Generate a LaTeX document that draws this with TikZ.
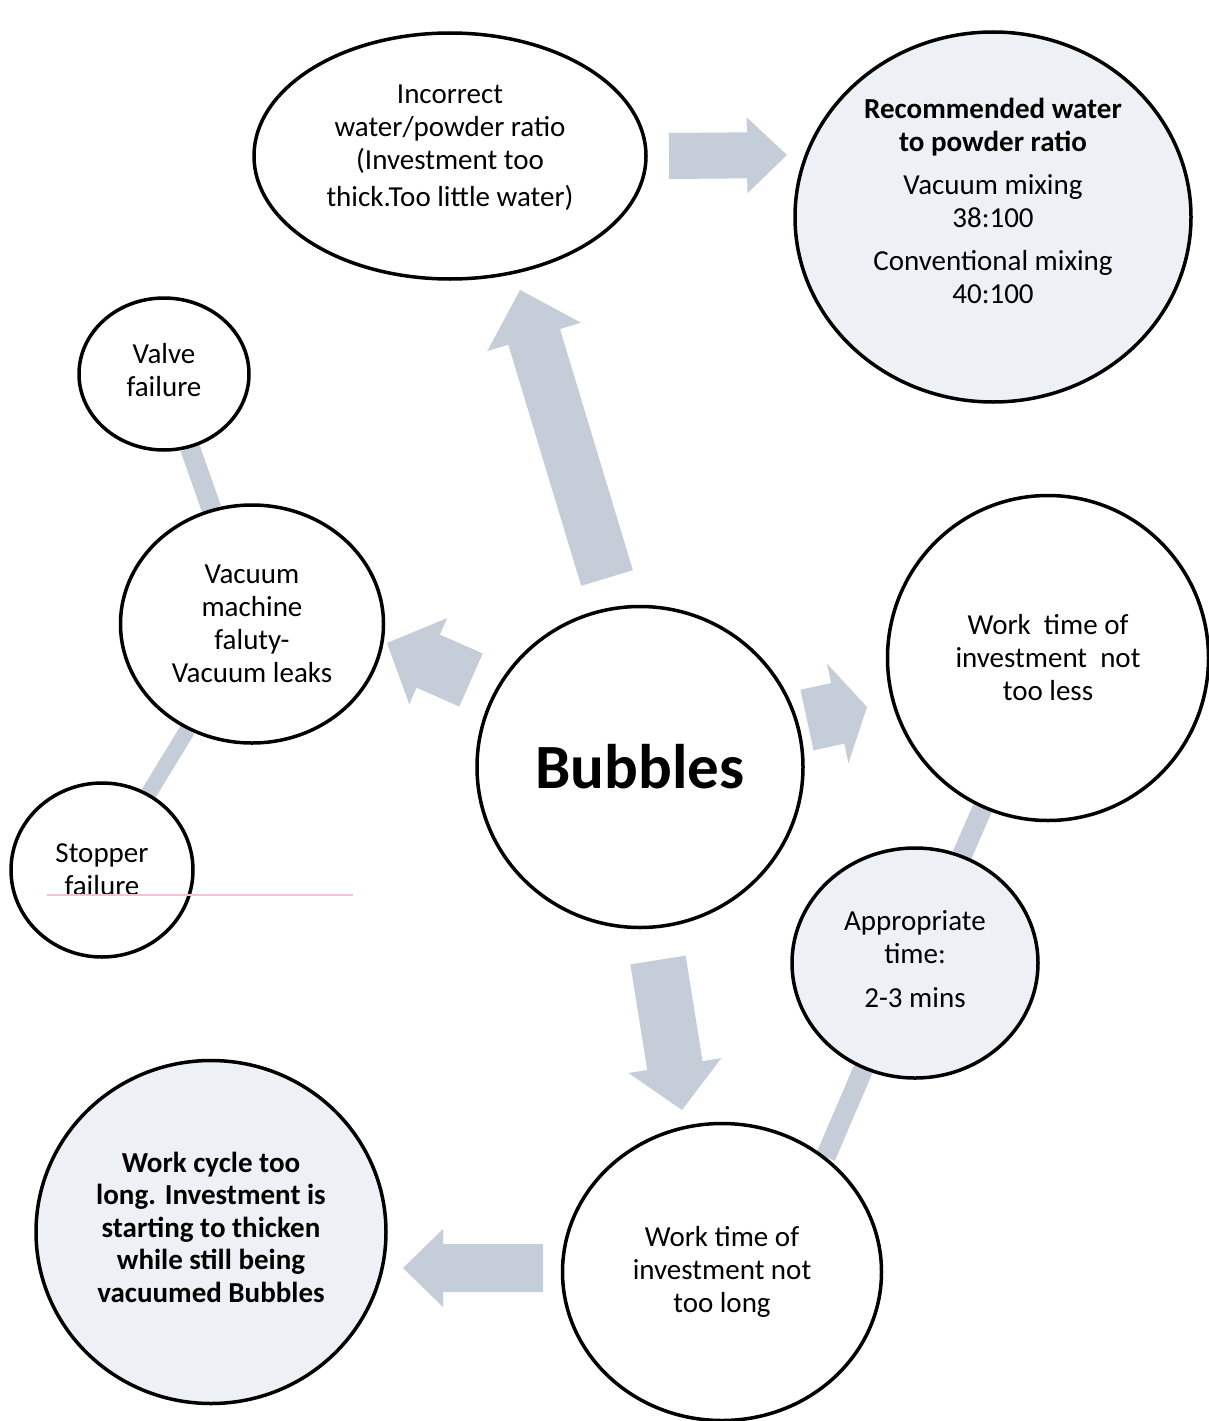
\documentclass[tikz,border=0pt]{standalone}
\usepackage{fontspec}
\setmainfont{Carlito}
\usetikzlibrary{shapes.geometric,calc,backgrounds}
\definecolor{arrowgray}{RGB}{197,206,216}
\definecolor{palefill}{RGB}{237,241,246}
\definecolor{scanpink}{RGB}{247,192,218}
\newcommand{\blockarrow}[5]{%
  \coordinate (#2-b) at ($(#2)!#5pt!(#1)$);
  \fill[arrowgray] ($(#1)!#3pt!90:(#2)$) -- ($(#2-b)!#3pt!90:(#2)$)
    -- ($(#2-b)!#4pt!90:(#2)$) -- (#2) -- ($(#2-b)!#4pt!-90:(#2)$)
    -- ($(#2-b)!#3pt!-90:(#2)$) -- ($(#1)!#3pt!-90:(#2)$) -- cycle;}
\begin{document}
\begin{tikzpicture}[x=1pt,y=-1pt,
	bubble/.style={ellipse,draw,line width=3.5pt,inner sep=0pt,align=center,font=\fontsize{29}{33}\selectfont},
	plain/.style={bubble,fill=white},
	pale/.style={bubble,fill=palefill},
	sz/.style 2 args={minimum width=#1pt,minimum height=#2pt},
	bar/.style={arrowgray,line width=#1},bar/.default=20pt]
	\path[use as bounding box] (0,0) rectangle (1209,1421);
	\node[plain,sz={392}{246},text depth=20pt] (ratio) at (450,156) {Incorrect\\water/powder ratio\\(Investment too\\[4pt]thick.Too little water)};
	\node[pale,sz={396}{370},text depth=32pt] (rec) at (993,217) {\textbf{Recommended water}\\\textbf{to powder ratio}\\[10pt]Vacuum mixing\\38:100\\[10pt]Conventional mixing\\40:100};
	\node[plain,sz={170}{152},text depth=8pt] (valve) at (164,374) {Valve\\failure};
	\node[plain,sz={263}{238}] (vac) at (252,624) {Vacuum\\machine\\faluty-\\Vacuum leaks};
	\node[plain,sz={182}{174}] (stop) at (102,870) {Stopper\\failure};
	\node[plain,sz={326}{321},font=\fontsize{63}{70}\selectfont\bfseries] (bub) at (640,767) {Bubbles};
	\node[plain,sz={321}{325}] (less) at (1048,658) {Work\ \ time of\\investment\ \ not\\too less};
	\node[pale,sz={246}{230},text depth=8pt] (appr) at (915,963) {Appropriate\\time:\\[11pt]2-3 mins};
	\node[pale,sz={350}{343},text depth=10pt,font=\fontsize{29}{32.5}\selectfont\bfseries] (cycle) at (211,1232) {Work cycle too\\long. Investment is\\starting to thicken\\while still being\\vacuumed Bubbles};
	\node[plain,sz={319}{297}] (long) at (722,1272) {Work time of\\investment not\\too long};
	\begin{scope}[on background layer]
		\fill[white] (0,0) rectangle (1209,1421);
		\draw[bar] (valve) -- (vac);
		\draw[bar=16pt] (vac) -- (stop);
		\draw[bar] (less) -- (appr);
		\draw[bar] (appr.244) -- (long.48);
	\end{scope}
	\coordinate (to-rec-s) at (669,156);
	\coordinate (to-rec-e) at (787,155);
	\coordinate (to-ratio-s) at (607,578);
	\coordinate (to-ratio-e) at (520,290);
	\coordinate (to-vac-s) at (471,680);
	\coordinate (to-vac-e) at (387,643);
	\coordinate (to-less-s) at (807,720);
	\coordinate (to-less-e) at (867,707);
	\coordinate (to-long-s) at (658,960);
	\coordinate (to-long-e) at (682,1110);
	\coordinate (to-cycle-s) at (543,1268);
	\coordinate (to-cycle-e) at (403,1268);
	\blockarrow{to-rec-s}{to-rec-e}{23}{38}{40}
	\blockarrow{to-ratio-s}{to-ratio-e}{27}{49}{49}
	\blockarrow{to-vac-s}{to-vac-e}{29}{47}{45}
	\blockarrow{to-less-s}{to-less-e}{31}{51}{30}
	\blockarrow{to-long-s}{to-long-e}{28}{47}{45}
	\blockarrow{to-cycle-s}{to-cycle-e}{24}{39}{40}
	\draw[scanpink,line width=1.5pt] (47,895) -- (353,895);
\end{tikzpicture}
\end{document}
